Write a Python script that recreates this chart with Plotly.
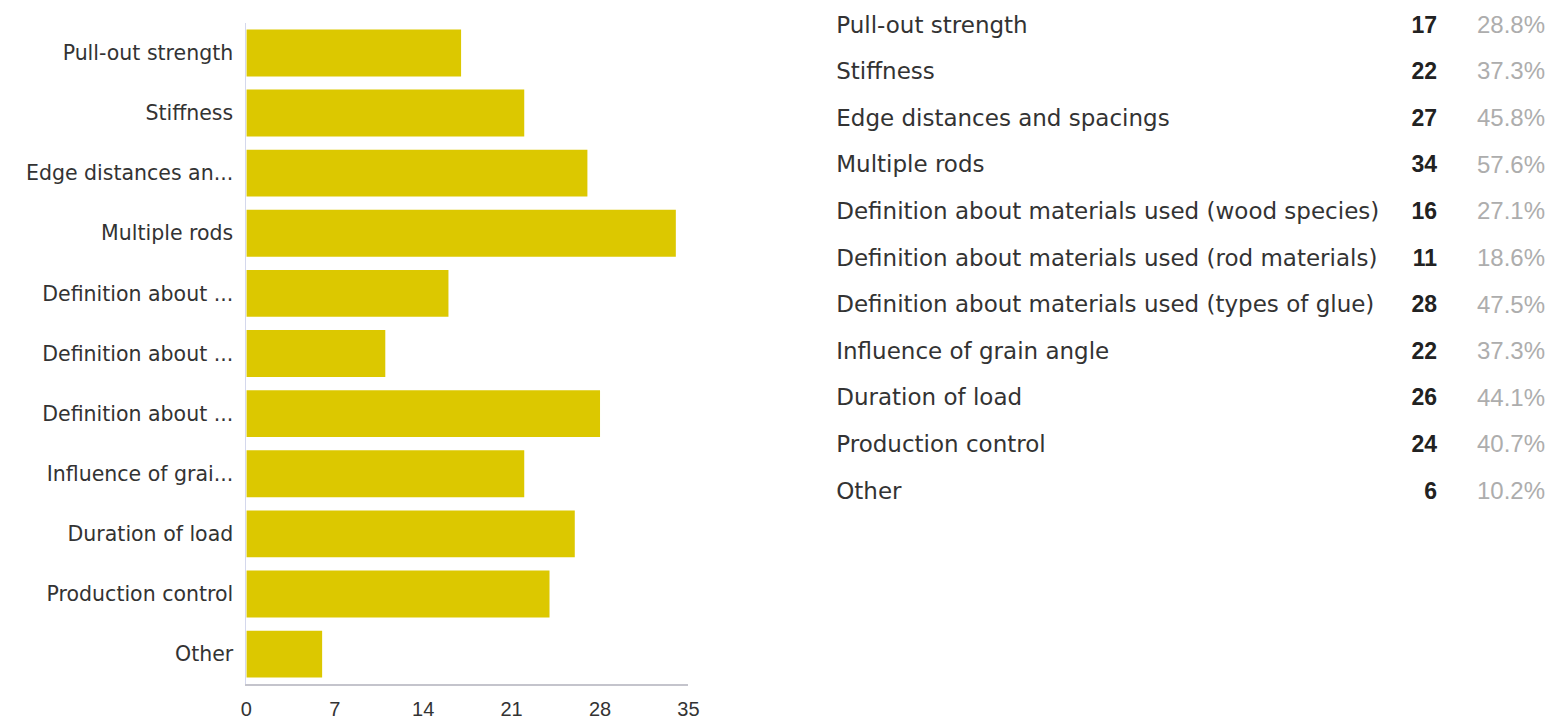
import plotly.graph_objects as go

# Survey answers: full option names, the shortened axis labels, counts and shares
options = [
    "Pull-out strength",
    "Stiffness",
    "Edge distances and spacings",
    "Multiple rods",
    "Definition about materials used (wood species)",
    "Definition about materials used (rod materials)",
    "Definition about materials used (types of glue)",
    "Influence of grain angle",
    "Duration of load",
    "Production control",
    "Other",
]
short_labels = [
    "Pull-out strength",
    "Stiffness",
    "Edge distances an...",
    "Multiple rods",
    "Definition about ...",
    "Definition about ...",
    "Definition about ...",
    "Influence of grai...",
    "Duration of load",
    "Production control",
    "Other",
]
counts = [17, 22, 27, 34, 16, 11, 28, 22, 26, 24, 6]
shares = ["28.8%", "37.3%", "45.8%", "57.6%", "27.1%", "18.6%",
          "47.5%", "37.3%", "44.1%", "40.7%", "10.2%"]
x_ticks = [0, 7, 14, 21, 28, 35]

W, H = 1556, 720
FONT = "Liberation Sans, Arial, sans-serif"
WIDE_FONT = "DejaVu Sans, Liberation Sans, sans-serif"
BAR_COLOR = "#DCC800"

# Column anchors of the summary table (fractions of its width)
COL_LABEL, COL_COUNT, COL_SHARE = 0.002, 0.848, 1.0

fig = go.Figure()

# Horizontal bar chart on the left
fig.add_trace(go.Bar(
    x=counts,
    y=options,
    orientation="h",
    marker=dict(color=BAR_COLOR, line=dict(width=0)),
    hoverinfo="skip",
    xaxis="x",
    yaxis="y",
))

# Summary table on the right: option name, count, share
fig.add_trace(go.Scatter(
    x=[COL_LABEL] * len(options), y=options, text=options,
    mode="text", textposition="middle right",
    textfont=dict(family=WIDE_FONT, size=23, color="#333333"),
    cliponaxis=False, hoverinfo="skip", xaxis="x2", yaxis="y2",
))
fig.add_trace(go.Scatter(
    x=[COL_COUNT] * len(options), y=options, text=[str(c) for c in counts],
    mode="text", textposition="middle left",
    textfont=dict(family=FONT, size=23, color="#222222", weight="bold"),
    cliponaxis=False, hoverinfo="skip", xaxis="x2", yaxis="y2",
))
fig.add_trace(go.Scatter(
    x=[COL_SHARE] * len(options), y=options, text=shares,
    mode="text", textposition="middle left",
    textfont=dict(family=FONT, size=24, color="#adadad"),
    cliponaxis=False, hoverinfo="skip", xaxis="x2", yaxis="y2",
))

fig.update_layout(
    width=W,
    height=H,
    autosize=False,
    margin=dict(l=0, r=0, t=0, b=0),
    paper_bgcolor="white",
    plot_bgcolor="white",
    showlegend=False,
    bargap=0.22,
    font=dict(family=FONT, color="#333333"),
    xaxis=dict(
        domain=[243 / W, 690 / W],
        range=[0, 35],
        tickvals=x_ticks,
        ticktext=[str(t) for t in x_ticks],
        showgrid=False,
        zeroline=False,
        showline=True,
        linecolor="#c4c4cc",
        linewidth=2,
        ticks="",
        ticklabelstandoff=6,
        tickfont=dict(family=FONT, size=20, color="#333333"),
        fixedrange=True,
    ),
    yaxis=dict(
        domain=[1 - 687 / H, 1 - 23 / H],
        type="category",
        categoryorder="array",
        categoryarray=options,
        autorange="reversed",
        tickvals=options,
        ticktext=short_labels,
        showgrid=False,
        zeroline=False,
        showline=True,
        linecolor="#d4d8ec",
        linewidth=1,
        ticks="",
        ticklabelstandoff=8,
        tickfont=dict(family=WIDE_FONT, size=20.5, color="#333333"),
        fixedrange=True,
    ),
    xaxis2=dict(
        domain=[838 / W, 1.0],
        range=[0, 1],
        visible=False,
        fixedrange=True,
    ),
    yaxis2=dict(
        domain=[1 - 521 / H, 1 - 1 / H],
        type="category",
        categoryorder="array",
        categoryarray=options,
        autorange="reversed",
        visible=False,
        fixedrange=True,
    ),
)

fig.write_html("out.html", config={"displayModeBar": False})
